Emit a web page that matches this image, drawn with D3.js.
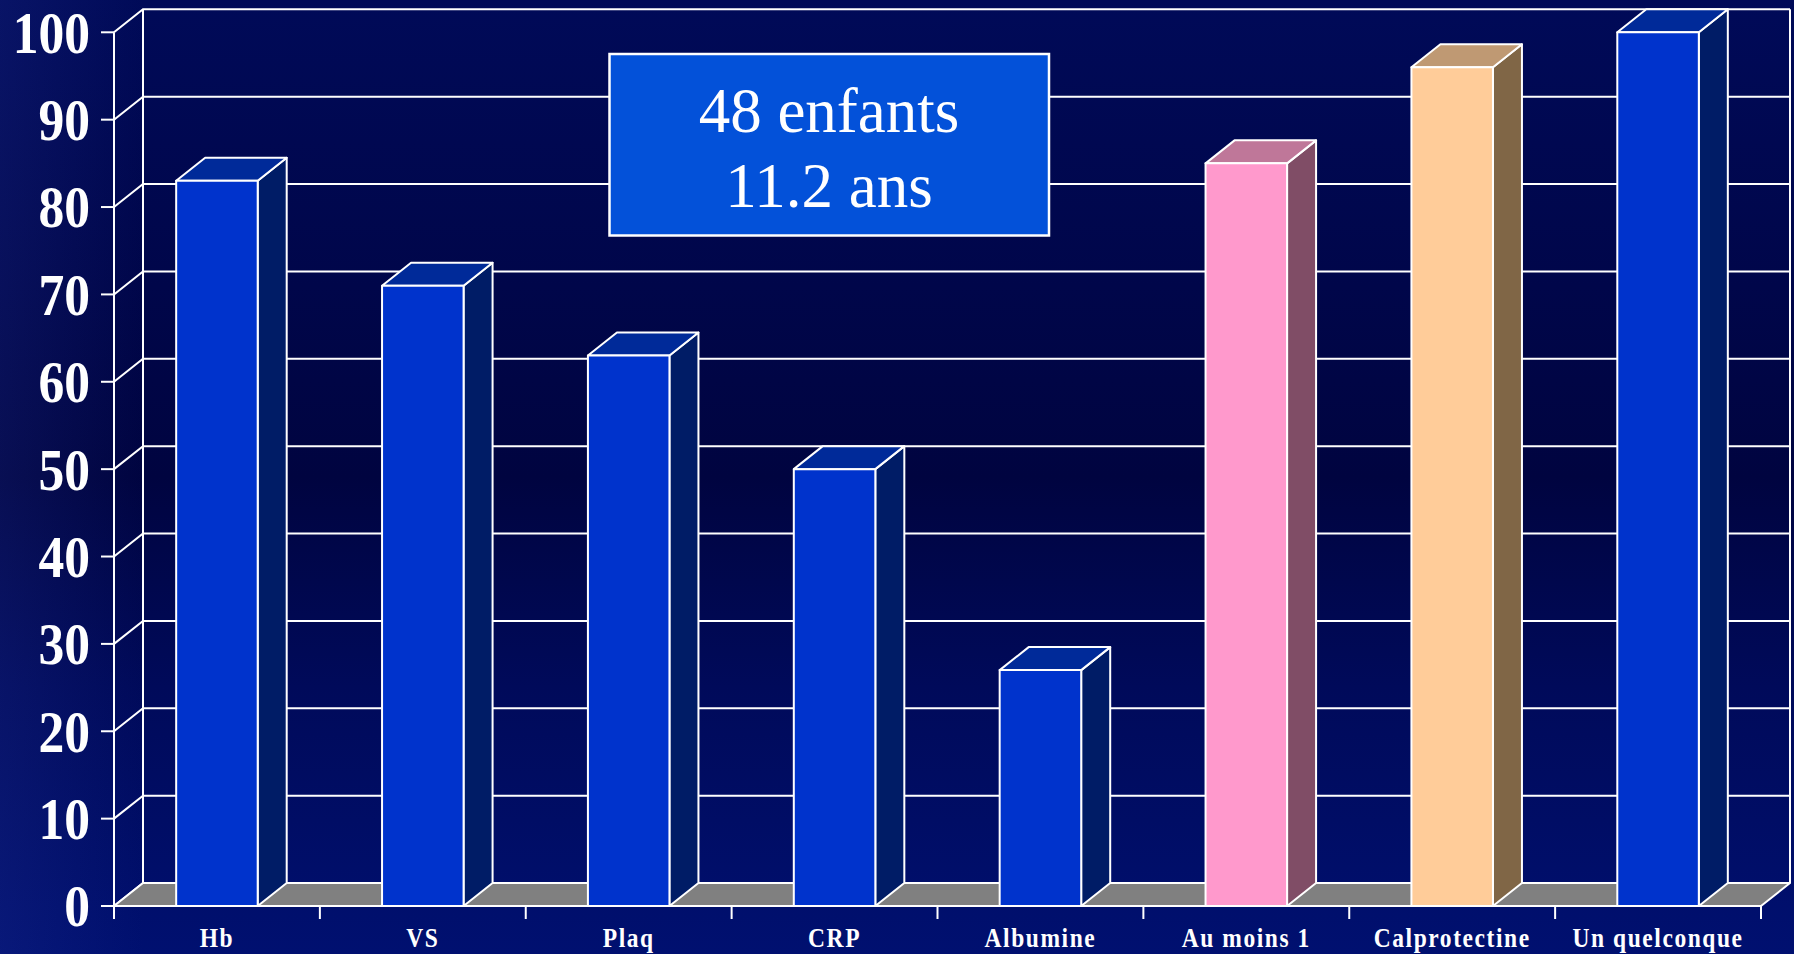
<!DOCTYPE html>
<html>
<head>
<meta charset="utf-8">
<script src="https://cdn.jsdelivr.net/npm/d3@7"></script>
<style>
  html, body { margin: 0; padding: 0; background: #000846; overflow: hidden; }
  svg { display: block; }
</style>
</head>
<body>
<svg id="chart" width="1794" height="954"></svg>
<script>
// Categories and percentages (48 children)
const categories = ["Hb", "VS", "Plaq", "CRP", "Albumine", "Au moins 1", "Calprotectine", "Un quelconque"];
const values = [83, 71, 63, 50, 27, 85, 96, 100];
const palette = ["blue", "blue", "blue", "blue", "blue", "pink", "peach", "blue"];
const yTicks = [0, 10, 20, 30, 40, 50, 60, 70, 80, 90, 100];
const boxLines = ["48 enfants", "11.2 ans"];

// Face colours for each palette entry: front, top, side
const faces = {
  blue:  { front: "#0033cc", top: "#002a99", side: "#001c66" },
  pink:  { front: "#ff99cc", top: "#bf7799", side: "#804d66" },
  peach: { front: "#ffcc99", top: "#bf9973", side: "#806646" }
};

const W = 1794, H = 954;
const depthX = 29, depthY = 23;
const svg = d3.select("#chart");

// Background
const defs = svg.append("defs");
const vg = defs.append("linearGradient").attr("id", "bgV").attr("x1", 0).attr("y1", 0).attr("x2", 0).attr("y2", 1);
[["0%", "#000a58"], ["30%", "#00064a"], ["50%", "#000440"], ["72%", "#000a5a"], ["100%", "#001070"]]
  .forEach(([o, c]) => vg.append("stop").attr("offset", o).attr("stop-color", c));
const hg = defs.append("linearGradient").attr("id", "bgH").attr("x1", 0).attr("y1", 0).attr("x2", 1).attr("y2", 0);
hg.append("stop").attr("offset", "0%").attr("stop-color", "#2a3aa0").attr("stop-opacity", 0.2);
hg.append("stop").attr("offset", "8%").attr("stop-color", "#2a3aa0").attr("stop-opacity", 0);
svg.append("rect").attr("width", W).attr("height", H).attr("fill", "url(#bgV)");
svg.append("rect").attr("width", W).attr("height", H).attr("fill", "url(#bgH)");

// Scales
const x = d3.scaleBand().domain(categories).range([114, 1761]).padding(0);
const xb = d3.scaleBand().domain(categories).range([114, 1761]).paddingInner(0.604).paddingOuter(0.302);
const y = d3.scaleLinear().domain([0, 100]).range([906, 32.3]);

const x0 = x.range()[0], x1 = x.range()[1];
const y0 = y(0), yTop = y(100);
const stroke = "#ffffff";

// Walls: gridlines on left and back walls
const grid = svg.append("g").attr("stroke", stroke).attr("stroke-width", 2).attr("fill", "none");
yTicks.forEach(t => {
  const yy = y(t);
  grid.append("path").attr("d", `M${x0},${yy} L${x0 + depthX},${yy - depthY} L${x1 + depthX},${yy - depthY}`);
});
grid.append("line").attr("x1", x0 + depthX).attr("x2", x0 + depthX).attr("y1", y0 - depthY).attr("y2", yTop - depthY);
grid.append("line").attr("x1", x1 + depthX).attr("x2", x1 + depthX).attr("y1", y0 - depthY).attr("y2", yTop - depthY);

// Floor
svg.append("path")
  .attr("d", `M${x0},${y0} L${x1},${y0} L${x1 + depthX},${y0 - depthY} L${x0 + depthX},${y0 - depthY} Z`)
  .attr("fill", "#808080").attr("stroke", stroke).attr("stroke-width", 2).attr("stroke-linejoin", "round");

// Bars
const bars = svg.append("g").selectAll("g").data(categories.map((c, i) => ({ c, v: values[i], f: faces[palette[i]] })))
  .join("g")
  .attr("stroke", stroke).attr("stroke-width", 2).attr("stroke-linejoin", "round");

bars.append("path") // side
  .attr("fill", d => d.f.side)
  .attr("d", d => {
    const r = xb(d.c) + xb.bandwidth(), t = y(d.v);
    return `M${r},${y0} L${r + depthX},${y0 - depthY} L${r + depthX},${t - depthY} L${r},${t} Z`;
  });
bars.append("path") // top
  .attr("fill", d => d.f.top)
  .attr("d", d => {
    const l = xb(d.c), r = l + xb.bandwidth(), t = y(d.v);
    return `M${l},${t} L${r},${t} L${r + depthX},${t - depthY} L${l + depthX},${t - depthY} Z`;
  });
bars.append("rect") // front
  .attr("fill", d => d.f.front)
  .attr("x", d => xb(d.c)).attr("width", xb.bandwidth())
  .attr("y", d => y(d.v)).attr("height", d => y0 - y(d.v));

// Front axes
const axes = svg.append("g").attr("stroke", stroke).attr("stroke-width", 2);
axes.append("line").attr("x1", x0).attr("x2", x0).attr("y1", y0).attr("y2", yTop);
axes.append("line").attr("x1", x0).attr("x2", x1).attr("y1", y0).attr("y2", y0);
yTicks.forEach(t => axes.append("line").attr("x1", x0 - 13).attr("x2", x0).attr("y1", y(t)).attr("y2", y(t)));
categories.concat([null]).forEach((c, i) => {
  const xx = x0 + i * x.step();
  axes.append("line").attr("x1", xx).attr("x2", xx).attr("y1", y0).attr("y2", y0 + 13);
});

// Y tick labels
svg.append("g").selectAll("text").data(yTicks).join("text")
  .attr("transform", d => `translate(90,${y(d)}) scale(0.86,1)`)
  .attr("text-anchor", "end").attr("dy", "0.34em")
  .attr("font-family", "'Liberation Serif', 'Times New Roman', serif")
  .attr("font-weight", "bold").attr("font-size", 60).attr("fill", "#ffffff")
  .text(d => d);

// Category labels
svg.append("g").selectAll("text").data(categories).join("text")
  .attr("transform", d => `translate(${x(d) + x.bandwidth() / 2},947) scale(0.87,1)`)
  .attr("text-anchor", "middle")
  .attr("font-family", "'Liberation Serif', 'Times New Roman', serif")
  .attr("font-weight", "bold").attr("font-size", 27).attr("letter-spacing", 1.8).attr("fill", "#ffffff")
  .text(d => d);

// Annotation box
const box = svg.append("g");
box.append("rect").attr("x", 609.5).attr("y", 54).attr("width", 439.5).attr("height", 181.5)
  .attr("fill", "#0351d9").attr("stroke", "#ffffff").attr("stroke-width", 2.5);
box.selectAll("text").data(boxLines).join("text")
  .attr("x", 829).attr("y", (d, i) => 131.7 + i * 75)
  .attr("text-anchor", "middle")
  .attr("font-family", "'Liberation Serif', 'Times New Roman', serif")
  .attr("font-size", 63).attr("fill", "#ffffff")
  .text(d => d);
</script>
</body>
</html>
